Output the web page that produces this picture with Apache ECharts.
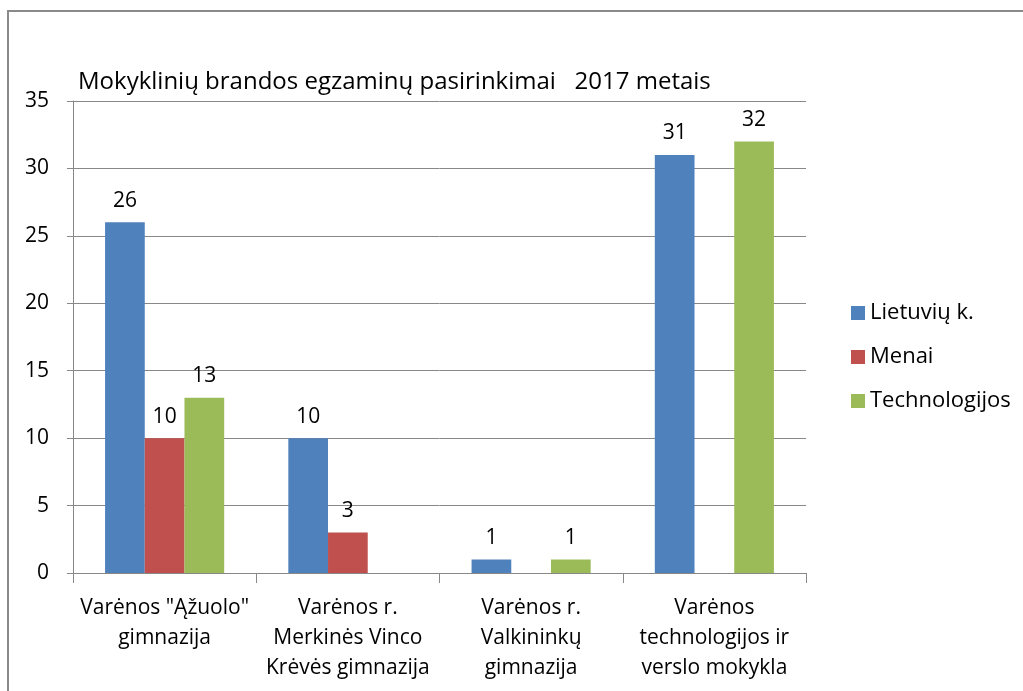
<!DOCTYPE html>
<html>
<head>
<meta charset="utf-8">
<script src="https://cdn.jsdelivr.net/npm/echarts@6/dist/echarts.min.js"></script>
<style>
  html, body { margin: 0; padding: 0; background: #fff; }
  #chart { width: 1023px; height: 691px; }
</style>
</head>
<body>
<div id="chart"></div>
<script>
// Schools (categories) and exam choice counts
var schools = [
  'Varėnos "Ąžuolo"\ngimnazija',
  'Varėnos r.\nMerkinės Vinco\nKrėvės gimnazija',
  'Varėnos r.\nValkininkų\ngimnazija',
  'Varėnos\ntechnologijos ir\nverslo mokykla'
];
var lietuviu = [26, 10, 1, 31];
var menai = [10, 3, null, null];
var technologijos = [13, null, 1, 32];

var font = '"Open Sans", sans-serif';

var chart = echarts.init(document.getElementById('chart'));

function barSeries(name, data, color) {
  return {
    name: name,
    type: 'bar',
    data: data,
    barGap: '0%',
    barCategoryGap: '35%',
    itemStyle: { color: color },
    label: {
      show: true,
      position: 'top',
      distance: 11,
      color: '#000',
      fontFamily: font,
      fontSize: 21
    }
  };
}

var option = {
  animation: false,
  title: {
    text: 'Mokyklinių brandos egzaminų pasirinkimai   2017 metais',
    left: 73,
    top: 65,
    textStyle: { fontFamily: font, fontSize: 24, fontWeight: 'normal', color: '#000' }
  },
  graphic: [{
    type: 'rect',
    shape: { x: 8, y: 11, width: 1030, height: 700 },
    style: { fill: null, stroke: '#8a8a8a', lineWidth: 2 }
  }],
  legend: {
    orient: 'vertical',
    left: 846,
    top: 297,
    itemWidth: 14,
    itemHeight: 14,
    itemGap: 22,
    icon: 'rect',
    textStyle: { fontFamily: font, fontSize: 22, color: '#000' },
    data: ['Lietuvių k.', 'Menai', 'Technologijos']
  },
  grid: { left: 73, top: 101, width: 733, height: 472, containLabel: false },
  xAxis: {
    type: 'category',
    data: schools,
    axisLine: { lineStyle: { color: '#888', width: 1 } },
    axisTick: { show: true, length: 10, lineStyle: { color: '#888' } },
    axisLabel: {
      interval: 0,
      margin: 20,
      color: '#000',
      fontFamily: font,
      fontSize: 21,
      lineHeight: 30,
      align: 'center'
    }
  },
  yAxis: {
    type: 'value',
    min: 0,
    max: 35,
    interval: 5,
    axisLine: { show: true, lineStyle: { color: '#888' } },
    axisTick: { show: true, length: 6, lineStyle: { color: '#888' } },
    splitLine: { show: true, lineStyle: { color: '#888' } },
    axisLabel: { margin: 24, color: '#000', fontFamily: font, fontSize: 21 }
  },
  series: [
    barSeries('Lietuvių k.', lietuviu, '#4F81BD'),
    barSeries('Menai', menai, '#C0504D'),
    barSeries('Technologijos', technologijos, '#9BBB59')
  ]
};

chart.setOption(option);
</script>
</body>
</html>
